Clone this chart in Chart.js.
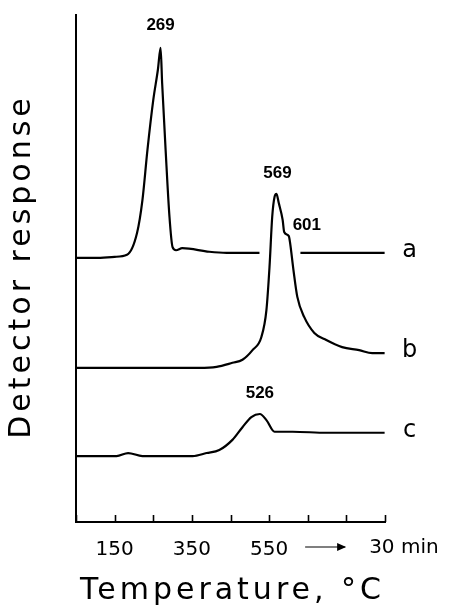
<!DOCTYPE html>
<html>
<head>
<meta charset="utf-8">
<script src="https://cdn.jsdelivr.net/npm/chart.js@4/dist/chart.umd.min.js"></script>
<style>
  html, body { margin: 0; padding: 0; background: #fff; }
  #wrap { width: 455px; height: 610px; }
</style>
</head>
<body>
<div id="wrap"><canvas id="tpd"></canvas></div>
<script>
'use strict';

/* --------------------------------------------------------------------------
   DATA  (temperature-equivalent x, detector response 0..100)
   -------------------------------------------------------------------------- */
const tempA = [50, 100, 150, 182, 208, 222, 235, 250, 262, 269, 273, 282, 292, 300, 309, 325, 395, 440, 525, 560, 631, 700, 849];
const respA = [52.1, 52.1, 52.3, 52.7, 57.0, 63.5, 73.4, 83.2, 89.2, 93.5, 86.6, 73.4, 60.2, 54.2, 53.6, 54.0, 53.3, 53.1, 53.1, null, 53.1, 53.1, 53.1];

const tempB = [50, 200, 300, 369, 414, 455, 481, 507, 530, 543, 551, 558, 564, 569, 575, 585, 589, 601, 604, 613, 623, 641, 667, 698, 739, 783, 817, 849];
const respB = [30.4, 30.4, 30.4, 30.4, 30.6, 31.4, 32.0, 33.9, 36.5, 41.8, 50.3, 60.2, 64.1, 64.7, 62.9, 59.6, 57.2, 56.4, 55.2, 49.7, 44.4, 40.4, 37.3, 35.9, 34.5, 33.9, 33.3, 33.3];

const tempC = [50, 155, 185, 222, 352, 388, 421, 455, 481, 504, 526, 543, 564, 611, 699, 784, 849];
const respC = [13.0, 13.0, 13.6, 13.0, 13.0, 13.6, 14.2, 16.2, 18.7, 20.7, 21.3, 20.1, 17.8, 17.8, 17.6, 17.6, 17.6];

const tickLabels = ['150', '350', '550'];
const peakTemps = [269, 569, 601, 526];
const peakNames = ['269', '569', '601', '526'];
const curveNames = ['a', 'b', 'c'];

const pts = (xs, ys) => xs.map((x, i) => ({ x: x, y: ys[i] }));

/* --------------------------------------------------------------------------
   ANNOTATION PLUGIN — titles, inward ticks, peak labels, curve letters
   -------------------------------------------------------------------------- */
const peakOffsets = [[0, -23], [1, -21], [18, -11], [0, -21]];
const peakSeries = [0, 1, 1, 2];

const annotate = {
    id: 'annotate',
    afterDraw(chart) {
        const { ctx, chartArea: area, scales: { x, y } } = chart;
        const sets = chart.data.datasets;
        ctx.save();
        ctx.fillStyle = '#000';
        ctx.strokeStyle = '#000';

        // inward tick marks
        ctx.lineWidth = 1.6;
        for (let t = 50; t <= 850; t += 100) {
            const px = Math.round(x.getPixelForValue(t)) + 0.5;
            ctx.beginPath();
            ctx.moveTo(px, area.bottom);
            ctx.lineTo(px, area.bottom - 7);
            ctx.stroke();
        }

        // arrow + "30 min"
        const ax = x.getPixelForValue(550) + 36;
        const ay = area.bottom + 25;
        ctx.lineWidth = 1.2;
        ctx.beginPath();
        ctx.moveTo(ax, ay);
        ctx.lineTo(ax + 40, ay);
        ctx.stroke();
        ctx.beginPath();
        ctx.moveTo(ax + 41, ay);
        ctx.lineTo(ax + 32, ay - 4);
        ctx.lineTo(ax + 32, ay + 4);
        ctx.closePath();
        ctx.fill();
        ctx.font = '20px "DejaVu Sans"';
        ctx.textAlign = 'left';
        ctx.textBaseline = 'middle';
        ctx.fillText('30 min', ax + 64, ay + 1);

        // peak labels
        ctx.font = 'bold 17px "Liberation Sans"';
        ctx.textAlign = 'center';
        peakTemps.forEach((t, i) => {
            const ds = sets[peakSeries[i]].data;
            const p = ds.find(d => d.x === t);
            const px = x.getPixelForValue(t) + peakOffsets[i][0];
            const py = y.getPixelForValue(p.y) + peakOffsets[i][1];
            ctx.fillText(peakNames[i], px, py);
        });

        // curve letters
        ctx.font = '24px "DejaVu Sans"';
        curveNames.forEach((n, i) => {
            const ds = sets[i].data;
            const last = ds[ds.length - 1];
            ctx.fillText(n, x.getPixelForValue(last.x) + 25, y.getPixelForValue(last.y) - 2);
        });

        // axis titles
        ctx.font = '30px "DejaVu Sans"';
        ctx.letterSpacing = '4px';
        ctx.fillText('Temperature, °C', (area.left + area.right) / 2 + 2, 591);
        ctx.translate(22, (area.top + area.bottom) / 2 - 2);
        ctx.rotate(-Math.PI / 2);
        ctx.fillText('Detector response', 0, 0);
        ctx.restore();
    },
};

/* --------------------------------------------------------------------------
   CHART
   -------------------------------------------------------------------------- */
const line = (data) => ({
    data: data,
    borderColor: '#000',
    borderWidth: 2.2,
    pointRadius: 0,
    cubicInterpolationMode: 'monotone',
    spanGaps: false,
    fill: false,
});

new Chart(document.getElementById('tpd'), {
    type: 'line',
    data: {
        datasets: [
            line(pts(tempA, respA)),
            line(pts(tempB, respB)),
            line(pts(tempC, respC)),
        ],
    },
    options: {
        responsive: true,
        maintainAspectRatio: false,
        animation: false,
        layout: { padding: { left: 0, right: 70, top: 15, bottom: 0 } },
        plugins: { legend: { display: false }, tooltip: { enabled: false } },
        scales: {
            x: {
                type: 'linear',
                min: 50,
                max: 850,
                afterFit: s => { s.height = 88; },
                border: { color: '#000', width: 2 },
                grid: { display: false },
                ticks: {
                    stepSize: 100,
                    padding: 8,
                    maxRotation: 0,
                    autoSkip: false,
                    color: '#000',
                    font: { family: 'DejaVu Sans', size: 20 },
                    callback: v => tickLabels.includes(String(v)) ? String(v) : '',
                },
            },
            y: {
                type: 'linear',
                min: 0,
                max: 100,
                afterFit: s => { s.width = 76; },
                border: { color: '#000', width: 2 },
                grid: { display: false },
                ticks: { display: false },
            },
        },
    },
    plugins: [annotate],
});
</script>
</body>
</html>
